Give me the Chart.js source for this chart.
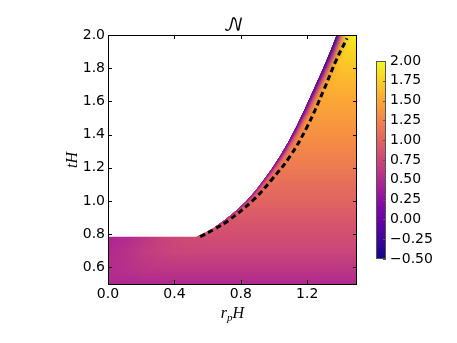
<!DOCTYPE html>
<html>
<head>
<meta charset="utf-8">
<script src="https://cdn.jsdelivr.net/npm/chart.js@4.4.1/dist/chart.umd.min.js"></script>
<style>
  html, body { margin: 0; padding: 0; background: #fff; }
  #wrap { position: relative; width: 457px; height: 343px; }
  canvas { position: absolute; left: 0; top: 0; }
</style>
</head>
<body>
<div id="wrap">
  <canvas id="mainChart" width="457" height="343"></canvas>
  <canvas id="cbChart" width="457" height="343"></canvas>
</div>
<script>
// Axis ticks
const xTickValues = [0.0, 0.4, 0.8, 1.2];
const yTickValues = [0.6, 0.8, 1.0, 1.2, 1.4, 1.6, 1.8, 2.0];
const cbTickValues = [-0.5, -0.25, 0, 0.25, 0.5, 0.75, 1.0, 1.25, 1.5, 1.75, 2.0];
const cbMin = -0.5, cbMax = 2.0;

// Field N(r_p H, tH) (null = outside the domain)
const fieldR = [0.0, 0.1, 0.2, 0.3, 0.4, 0.5, 0.6, 0.7, 0.8, 0.9, 1.0, 1.1, 1.2, 1.3, 1.4, 1.5];
const fieldT = [0.5, 0.6, 0.7, 0.8, 0.9, 1.0, 1.1, 1.2, 1.3, 1.4, 1.5, 1.6, 1.7, 1.8, 1.9, 2.0];
const n = null;
const fieldValues = [
  [0.48, 0.48, 0.48, 0.48, 0.48, 0.48, 0.48, 0.48, 0.48, 0.48, 0.48, 0.48, 0.48, 0.48, 0.48, 0.48],
  [0.52, 0.56, 0.60, 0.62, 0.62, 0.62, 0.62, 0.62, 0.62, 0.62, 0.62, 0.62, 0.62, 0.62, 0.62, 0.62],
  [0.50, 0.56, 0.64, 0.70, 0.74, 0.74, 0.74, 0.74, 0.74, 0.74, 0.74, 0.74, 0.74, 0.74, 0.74, 0.74],
  [0.44, 0.50, 0.58, 0.68, 0.76, 0.80, 0.82, 0.82, 0.82, 0.82, 0.82, 0.82, 0.82, 0.82, 0.82, 0.82],
  [n, n, n, n, n, n, n, 0.90, 0.90, 0.90, 0.90, 0.90, 0.90, 0.90, 0.90, 0.90],
  [n, n, n, n, n, n, n, n, 1.00, 1.00, 1.00, 1.00, 1.00, 1.00, 1.00, 1.00],
  [n, n, n, n, n, n, n, n, n, 1.08, 1.08, 1.08, 1.08, 1.08, 1.08, 1.08],
  [n, n, n, n, n, n, n, n, n, n, 1.17, 1.17, 1.17, 1.17, 1.17, 1.17],
  [n, n, n, n, n, n, n, n, n, n, n, 1.26, 1.26, 1.26, 1.26, 1.26],
  [n, n, n, n, n, n, n, n, n, n, n, 1.34, 1.34, 1.34, 1.34, 1.34],
  [n, n, n, n, n, n, n, n, n, n, n, n, 1.42, 1.42, 1.42, 1.42],
  [n, n, n, n, n, n, n, n, n, n, n, n, 1.50, 1.50, 1.50, 1.50],
  [n, n, n, n, n, n, n, n, n, n, n, n, n, 1.58, 1.58, 1.58],
  [n, n, n, n, n, n, n, n, n, n, n, n, n, 1.67, 1.67, 1.67],
  [n, n, n, n, n, n, n, n, n, n, n, n, n, n, 1.78, 1.78],
  [n, n, n, n, n, n, n, n, n, n, n, n, n, n, 1.95, 1.95]
];

// Edge of the domain and the values right on it
const boundaryR = [0.53, 0.60, 0.697, 0.836, 0.936, 1.037, 1.138, 1.238, 1.319, 1.378];
const boundaryT = [0.785, 0.815, 0.877, 0.995, 1.122, 1.265, 1.448, 1.669, 1.849, 2.0];
const edgeT = [0.85, 1.0, 1.2, 1.4, 1.6, 1.8, 2.0];
const edgeValues = [0.55, 0.35, 0.15, 0.0, -0.14, -0.26, -0.36];

// Dashed black curve
const dashedR = [0.555, 0.64, 0.73, 0.875, 0.985, 1.095, 1.2, 1.3, 1.375, 1.44];
const dashedT = [0.785, 0.83, 0.886, 1.006, 1.127, 1.267, 1.448, 1.669, 1.849, 1.98];

// plasma colormap
const plasmaStops = [[13,8,135],[65,4,157],[106,0,168],[143,13,164],[177,42,144],[204,71,120],
                     [225,100,98],[242,132,75],[252,166,54],[252,206,37],[240,249,33]];
function plasma(v) {
    let f = (v - cbMin) / (cbMax - cbMin);
    f = Math.min(1, Math.max(0, f)) * (plasmaStops.length - 1);
    const i = Math.min(Math.floor(f), plasmaStops.length - 2), u = f - i;
    const a = plasmaStops[i], b = plasmaStops[i + 1];
    return [0, 1, 2].map(k => Math.round(a[k] + (b[k] - a[k]) * u));
}
const rgb = c => `rgb(${c[0]},${c[1]},${c[2]})`;
function lookup(xs, ys, x) {
    if (x <= xs[0]) return ys[0];
    for (let i = 1; i < xs.length; i++) {
        if (x <= xs[i]) return ys[i - 1] + (ys[i] - ys[i - 1]) * (x - xs[i - 1]) / (xs[i] - xs[i - 1]);
    }
    return ys[ys.length - 1];
}

function smoothTo(ctx, pts) {
    ctx.lineTo(pts[0][0], pts[0][1]);
    for (let i = 1; i < pts.length - 1; i++) {
        const mx = (pts[i][0] + pts[i + 1][0]) / 2, my = (pts[i][1] + pts[i + 1][1]) / 2;
        ctx.quadraticCurveTo(pts[i][0], pts[i][1], mx, my);
    }
    ctx.lineTo(pts[pts.length - 1][0], pts[pts.length - 1][1]);
}

function boundaryPixels(x, y) {
    return boundaryR.map((r, i) => [x.getPixelForValue(r), y.getPixelForValue(boundaryT[i])]);
}

const tickFont = { family: "'DejaVu Sans', sans-serif", size: 14 };

// Heatmap clipped to the domain, plus the dark rim along the curved edge
const heatmapPlugin = {
    id: 'heatmap',
    beforeDatasetsDraw(chart) {
        const { ctx, chartArea: a, scales: { x, y } } = chart;
        const cols = fieldR.length, rows = fieldT.length;
        const off = document.createElement('canvas');
        off.width = cols; off.height = rows;
        const octx = off.getContext('2d');
        const img = octx.createImageData(cols, rows);
        for (let j = 0; j < rows; j++) {
            const row = fieldValues[j];
            for (let i = 0; i < cols; i++) {
                let v = row[i];
                for (let k = i; v == null && k < cols; k++) v = row[k];
                const c = plasma(v);
                const p = ((rows - 1 - j) * cols + i) * 4;
                img.data[p] = c[0]; img.data[p + 1] = c[1]; img.data[p + 2] = c[2]; img.data[p + 3] = 255;
            }
        }
        octx.putImageData(img, 0, 0);
        const dr = fieldR[1] - fieldR[0], dt = fieldT[1] - fieldT[0];
        const x0 = x.getPixelForValue(fieldR[0] - dr / 2), x1 = x.getPixelForValue(fieldR[cols - 1] + dr / 2);
        const y0 = y.getPixelForValue(fieldT[rows - 1] + dt / 2), y1 = y.getPixelForValue(fieldT[0] - dt / 2);

        const bp = boundaryPixels(x, y);
        const last = bp[bp.length - 1];

        ctx.save();
        ctx.beginPath();
        ctx.moveTo(a.left, a.bottom);
        ctx.lineTo(a.left, bp[0][1]);
        smoothTo(ctx, bp);
        ctx.lineTo(a.right, last[1]);
        ctx.lineTo(a.right, a.bottom);
        ctx.closePath();
        ctx.clip();

        ctx.imageSmoothingEnabled = true;
        ctx.imageSmoothingQuality = 'low';
        ctx.drawImage(off, x0, y0, x1 - x0, y1 - y0);

        // rim: layered shadows of the outside region, stepping through the colormap
        const interior = fieldValues.map(row => row[row.length - 1]);
        const layers = 4;
        const pyEnd = Math.ceil(y.getPixelForValue(edgeT[0]));
        for (let py = Math.floor(a.top); py < pyEnd; py += 3) {
            const tm = y.getValueForPixel(py + 1.5);
            const ve = lookup(edgeT, edgeValues, tm), vi = lookup(fieldT, interior, tm);
            const blur = 2 + 12 * Math.max(0, tm - 0.85) / 1.15;
            ctx.save();
            ctx.beginPath();
            ctx.rect(a.left, py, a.width, 3);
            ctx.clip();
            ctx.beginPath();
            ctx.moveTo(a.left - 400, bp[0][1]);
            smoothTo(ctx, bp);
            ctx.lineTo(last[0], a.top - 400);
            ctx.lineTo(a.left - 400, a.top - 400);
            ctx.closePath();
            for (let k = 1; k <= layers; k++) {
                const col = rgb(plasma(vi + (ve - vi) * k / layers));
                ctx.shadowColor = col;
                ctx.fillStyle = col;
                ctx.shadowBlur = blur * (1.15 - 0.25 * (k - 1));
                ctx.fill();
                ctx.fill();
            }
            ctx.restore();
        }
        ctx.restore();
    }
};

// Frame and inward ticks on all four sides
const framePlugin = {
    id: 'frame',
    afterDraw(chart) {
        const { ctx, chartArea: a, scales: { x, y } } = chart;
        ctx.save();
        ctx.strokeStyle = '#000';
        ctx.lineWidth = 1;
        ctx.beginPath();
        xTickValues.forEach(v => {
            const px = Math.round(x.getPixelForValue(v)) + 0.5;
            ctx.moveTo(px, a.bottom); ctx.lineTo(px, a.bottom - 4);
            ctx.moveTo(px, a.top); ctx.lineTo(px, a.top + 4);
        });
        yTickValues.forEach(v => {
            const py = Math.round(y.getPixelForValue(v)) + 0.5;
            ctx.moveTo(a.left, py); ctx.lineTo(a.left + 4, py);
            ctx.moveTo(a.right, py); ctx.lineTo(a.right - 4, py);
        });
        ctx.stroke();
        ctx.strokeRect(a.left + 0.5, a.top + 0.5, a.width - 1, a.height);
        ctx.restore();
    }
};

// Title and axis labels
const labelPlugin = {
    id: 'labels',
    afterDraw(chart) {
        const { ctx, chartArea: a } = chart;
        const cx = (a.left + a.right) / 2;
        ctx.save();
        ctx.fillStyle = '#000';
        ctx.textAlign = 'center';
        ctx.textBaseline = 'alphabetic';
        ctx.font = "18px 'DejaVu Math TeX Gyre', 'DejaVu Serif', serif";
        ctx.fillText('\u{1D4A9}', cx + 1, 31);

        ctx.save();
        ctx.translate(77, 160);
        ctx.rotate(-Math.PI / 2);
        ctx.font = "italic 16px 'Liberation Serif', serif";
        ctx.textBaseline = 'alphabetic';
        ctx.fillText('tH', 0, 0);
        ctx.restore();

        const big = "italic 16px 'Liberation Serif', serif", small = "italic 11px 'Liberation Serif', serif";
        ctx.font = big; const wr = ctx.measureText('r').width, wh = ctx.measureText('H').width;
        ctx.font = small; const wp = ctx.measureText('p').width;
        let sx = cx - (wr + wp + wh) / 2;
        const by = 318;
        ctx.textAlign = 'left';
        ctx.font = big; ctx.fillText('r', sx, by); sx += wr;
        ctx.font = small; ctx.fillText('p', sx, by + 3); sx += wp;
        ctx.font = big; ctx.fillText('H', sx, by);
        ctx.restore();
    }
};

const mainChart = new Chart(document.getElementById('mainChart'), {
    type: 'scatter',
    data: {
        datasets: [{
            type: 'line',
            data: dashedR.map((r, i) => ({ x: r, y: dashedT[i] })),
            borderColor: '#000',
            borderWidth: 3,
            borderDash: [5.5, 3.5],
            borderCapStyle: 'butt',
            pointRadius: 0,
            tension: 0.4,
            fill: false
        }]
    },
    options: {
        responsive: false,
        animation: false,
        devicePixelRatio: 1,
        layout: { padding: { left: 55, right: 100, top: 35, bottom: 13 } },
        plugins: { legend: { display: false }, tooltip: { enabled: false } },
        scales: {
            x: {
                type: 'linear', min: 0, max: 1.5,
                grid: { display: false, drawTicks: false }, border: { display: false },
                afterBuildTicks: s => { s.ticks = xTickValues.map(v => ({ value: v })); },
                afterFit: s => { s.height = 46; },
                ticks: { autoSkip: false, maxRotation: 0, padding: 2, color: '#000', font: tickFont,
                         callback: v => v.toFixed(1) }
            },
            y: {
                type: 'linear', min: 0.5, max: 2.0,
                grid: { display: false, drawTicks: false }, border: { display: false },
                afterBuildTicks: s => { s.ticks = yTickValues.map(v => ({ value: v })); },
                afterFit: s => { s.width = 53; },
                ticks: { autoSkip: false, padding: 3, color: '#000', font: tickFont,
                         callback: v => v.toFixed(1) }
            }
        }
    },
    plugins: [heatmapPlugin, framePlugin, labelPlugin]
});

// Colorbar
const colorbarPlugin = {
    id: 'colorbar',
    beforeDatasetsDraw(chart) {
        const { ctx, chartArea: a, scales: { y } } = chart;
        const g = ctx.createLinearGradient(0, y.getPixelForValue(cbMin), 0, y.getPixelForValue(cbMax));
        plasmaStops.forEach((c, i) => g.addColorStop(i / (plasmaStops.length - 1), rgb(c)));
        ctx.save();
        ctx.fillStyle = g;
        ctx.fillRect(a.left, a.top, a.width, a.height);
        ctx.restore();
    },
    afterDraw(chart) {
        const { ctx, chartArea: a, scales: { y } } = chart;
        ctx.save();
        ctx.strokeStyle = '#555';
        ctx.lineWidth = 1;
        ctx.strokeRect(a.left + 0.5, a.top + 0.5, a.width - 1, a.height - 1);
        ctx.beginPath();
        cbTickValues.forEach(v => {
            const py = Math.round(y.getPixelForValue(v)) + 0.5;
            ctx.moveTo(a.right, py); ctx.lineTo(a.right - 3, py);
        });
        ctx.stroke();
        ctx.restore();
    }
};

const cbChart = new Chart(document.getElementById('cbChart'), {
    type: 'scatter',
    data: { datasets: [] },
    options: {
        responsive: false,
        animation: false,
        devicePixelRatio: 1,
        layout: { padding: { left: 376, right: 0, top: 61, bottom: 84 } },
        plugins: { legend: { display: false }, tooltip: { enabled: false } },
        scales: {
            x: { display: false, min: 0, max: 1 },
            y: {
                position: 'right', min: cbMin, max: cbMax,
                grid: { display: false, drawTicks: false }, border: { display: false },
                afterBuildTicks: s => { s.ticks = cbTickValues.map(v => ({ value: v })); },
                afterFit: s => { s.width = 71; },
                ticks: { autoSkip: false, padding: 4, color: '#000', font: tickFont,
                         callback: v => (v < 0 ? '\u2212' : '') + Math.abs(v).toFixed(2) }
            }
        }
    },
    plugins: [colorbarPlugin]
});
</script>
</body>
</html>
